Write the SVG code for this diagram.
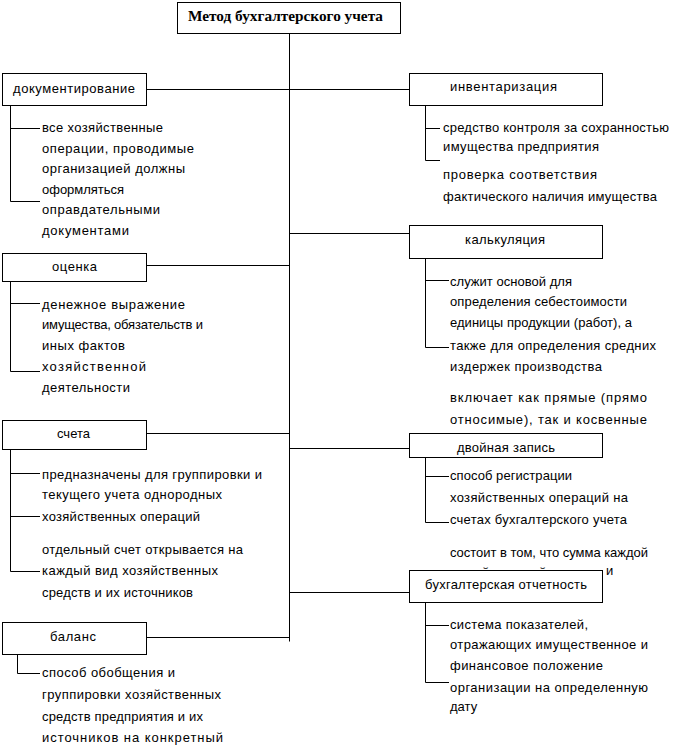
<svg xmlns="http://www.w3.org/2000/svg" width="682" height="750" viewBox="0 0 682 750">
<style>
rect.box{fill:#fff;stroke:#000;stroke-width:1}
.ln{stroke:#000;stroke-width:1;fill:none}
text{font-family:"Liberation Sans",Arial,sans-serif;font-size:13px;fill:#000}
.title{font-family:"Liberation Serif","Times New Roman",serif;font-weight:bold;font-size:14px}
</style>
<rect width="682" height="750" fill="#fff"/>
<g id="connectors">
<path class="ln" d="M289.5,33.5V641.5"/>
<path class="ln" d="M146.5,89.5H409.5M146.5,265.5H289.5M146.5,433.5H289.5M146.5,637.5H289.5M289.5,233.5H409.5M289.5,448.5H409.5M289.5,592.5H409.5"/>
<path class="ln" d="M10.5,105.5V201.5H40M10.5,128.5H40"/>
<path class="ln" d="M10.5,281.5V371.5H40M10.5,303.5H40"/>
<path class="ln" d="M10.5,449.5V571.5H40M10.5,473.5H40M10.5,516.5H40"/>
<path class="ln" d="M17.5,654.5V673.5H40"/>
<path class="ln" d="M425.5,105.5V160.5H440M425.5,128.5H440"/>
<path class="ln" d="M425.5,258.5V347.5H449M425.5,280.5H449"/>
<path class="ln" d="M425.5,457.5V522.5H449M425.5,476.5H449"/>
<path class="ln" d="M425.5,602.5V682.5H449M425.5,625.5H449"/>
</g>
<g id="title">
<rect class="box" x="177.5" y="2.5" width="223" height="31"/>
<text class="title" x="188" y="21" textLength="195" lengthAdjust="spacingAndGlyphs">Метод бухгалтерского учета</text>
</g>
<g id="doc">
<rect class="box" x="2.5" y="73.5" width="144" height="32"/>
<text x="13" y="93" textLength="122">документирование</text>
<text x="42" y="132" textLength="121">все хозяйственные</text>
<text x="42" y="152.5" textLength="152">операции, проводимые</text>
<text x="42" y="173" textLength="143">организацией должны</text>
<text x="42" y="193.5" textLength="82">оформляться</text>
<text x="42" y="214" textLength="118">оправдательными</text>
<text x="42" y="235" textLength="87">документами</text>
</g>
<g id="ocenka">
<rect class="box" x="2.5" y="253.5" width="144" height="28"/>
<text x="52" y="271" textLength="45">оценка</text>
<text x="42" y="309" textLength="143">денежное выражение</text>
<text x="42" y="329" textLength="161">имущества, обязательств и</text>
<text x="42" y="350" textLength="83">иных фактов</text>
<text x="42" y="371" textLength="104">хозяйственной</text>
<text x="42" y="392" textLength="88">деятельности</text>
</g>
<g id="scheta">
<rect class="box" x="2.5" y="420.5" width="144" height="29"/>
<text x="57" y="438" textLength="33">счета</text>
<text x="42" y="479" textLength="220">предназначены для группировки и</text>
<text x="42" y="499" textLength="180">текущего учета однородных</text>
<text x="42" y="520.5" textLength="158">хозяйственных операций</text>
<text x="42" y="554" textLength="201">отдельный счет открывается на</text>
<text x="42" y="575" textLength="176">каждый вид хозяйственных</text>
<text x="42" y="597" textLength="151">средств и их источников</text>
</g>
<g id="balans">
<rect class="box" x="2.5" y="622.5" width="144" height="32"/>
<text x="50" y="641" textLength="46">баланс</text>
<text x="42" y="677" textLength="133">способ обобщения и</text>
<text x="42" y="699" textLength="179">группировки хозяйственных</text>
<text x="42" y="721" textLength="161">средств предприятия и их</text>
<text x="42" y="742" textLength="181">источников на конкретный</text>
</g>
<g id="inventar">
<rect class="box" x="409.5" y="73.5" width="193" height="32"/>
<text x="450" y="91" textLength="107">инвентаризация</text>
<text x="443" y="132" textLength="226">средство контроля за сохранностью</text>
<text x="443" y="151" textLength="156">имущества предприятия</text>
<text x="443" y="179" textLength="154">проверка соответствия</text>
<text x="443" y="201" textLength="214">фактического наличия имущества</text>
</g>
<g id="kalk">
<rect class="box" x="409.5" y="225.5" width="193" height="33"/>
<text x="465" y="244" textLength="80">калькуляция</text>
<text x="450" y="285.5" textLength="122">служит основой для</text>
<text x="450" y="306" textLength="177">определения себестоимости</text>
<text x="450" y="327" textLength="182">единицы продукции (работ), а</text>
<text x="450" y="349.5" textLength="206">также для определения средних</text>
<text x="450" y="370.5" textLength="152">издержек производства</text>
<text x="450" y="402" textLength="197">включает как прямые (прямо</text>
<text x="450" y="424" textLength="197">относимые), так и косвенные</text>
</g>
<g id="dvoin">
<rect class="box" x="409.5" y="433.5" width="193" height="24"/>
<text x="457" y="452" textLength="98">двойная запись</text>
<text x="450" y="480" textLength="122">способ регистрации</text>
<text x="450" y="501.5" textLength="178">хозяйственных операций на</text>
<text x="450" y="524" textLength="177">счетах бухгалтерского учета</text>
<text x="450" y="557" textLength="198">состоит в том, что сумма каждой</text>
<text x="482" y="577">й</text>
<text x="539" y="577">й</text>
<text x="606" y="575">и</text>
</g>
<g id="buh">
<rect class="box" x="409.5" y="570.5" width="193" height="32"/>
<text x="425" y="589" textLength="162">бухгалтерская отчетность</text>
<text x="450" y="629" textLength="138">система показателей,</text>
<text x="450" y="649" textLength="198">отражающих имущественное и</text>
<text x="450" y="670" textLength="153">финансовое положение</text>
<text x="450" y="692" textLength="198">организации на определенную</text>
<text x="450" y="711">дату</text>
</g>
</svg>
